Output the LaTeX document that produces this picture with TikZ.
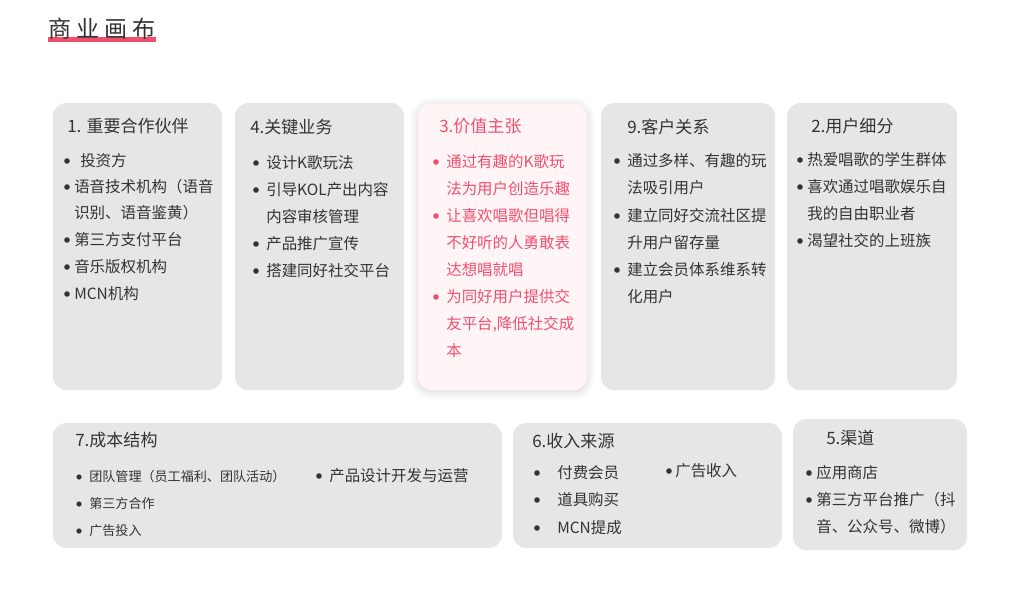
\documentclass[tikz,border=0pt]{standalone}
\usepackage{fontspec}
\setmainfont{Noto Sans CJK SC}
\usetikzlibrary{shadows.blur}

\definecolor{cardgray}{HTML}{E6E6E6}
\definecolor{cardpink}{HTML}{FFF5F7}
\definecolor{accent}{HTML}{F0506E}
\definecolor{inkgray}{HTML}{333333}

\begin{document}
\begin{tikzpicture}[x=0.025cm, y=-0.025cm,
  card/.style={fill=cardgray, rounded corners=0.33cm},
  head/.style={anchor=west, inner sep=0pt, text=inkgray,
    font=\fontsize{12.1}{14}\selectfont, text height=10pt, text depth=0.85pt},
  txt/.style={anchor=west, inner sep=0pt, text=inkgray,
    font=\fontsize{11}{13}\selectfont, text height=9.1pt, text depth=0.8pt},
  small/.style={txt, font=\fontsize{9.3}{11}\selectfont, text height=7.7pt, text depth=0.65pt},
  dot/.style={circle, fill=inkgray, inner sep=0pt, minimum size=0.14cm}]
  \useasboundingbox (0,0) rectangle (1015,600);

  % title
  \fill[accent] (48,37) rectangle (156,42);
  \node[anchor=west, inner sep=0pt, text=inkgray, text height=13.6pt, text depth=1.2pt,
    font=\fontsize{16.4}{18}\selectfont\addfontfeature{LetterSpace=22}] (title) at (48,29) {商业画布};

  % cards
  \fill[card] (53,103) rectangle (222,390);
  \fill[card] (235,103) rectangle (404,390);
  \fill[cardpink, rounded corners=0.33cm,
    blur shadow={shadow xshift=0pt, shadow yshift=-1pt, shadow blur radius=6pt, shadow opacity=18}]
    (418,104) rectangle (587,390);
  \fill[card] (601,103) rectangle (775,390);
  \fill[card] (787,103) rectangle (957,390);
  \fill[card] (53,423) rectangle (502,548);
  \fill[card] (513,423) rectangle (782,548);
  \fill[card] (793,419) rectangle (967,550);

  % 1. partners
  \node[head] (h1) at (67,126) {1. 重要合作伙伴};
  \foreach \y in {161,187,240,267,294} \node[dot] (d1-\y) at (67,\y) {};
  \node[txt] (p1) at (80,161) {投资方};
  \foreach \y/\t in {187/语音技术机构（语音, 213/识别、语音鉴黄）, 240/第三方支付平台,
    267/音乐版权机构, 294/MCN机构}
    \node[txt] (p1-\y) at (74,\y) {\t};

  % 4. key activities
  \node[head] (h4) at (250,127) {4.关键业务};
  \foreach \y in {163,190,244,271} \node[dot] (d4-\y) at (256,\y) {};
  \foreach \y/\t in {163/设计K歌玩法, 190/引导KOL产出内容, 217/内容审核管理,
    244/产品推广宣传, 271/搭建同好社交平台}
    \node[txt] (p4-\y) at (266,\y) {\t};

  % 3. value proposition
  \node[head, text=accent] (h3) at (439,126) {3.价值主张};
  \foreach \y in {162,216,297} \node[dot, fill=accent] (d3-\y) at (436,\y) {};
  \foreach \y/\t in {162/通过有趣的K歌玩, 189/法为用户创造乐趣, 216/让喜欢唱歌但唱得,
    243/不好听的人勇敢表, 270/达想唱就唱, 297/为同好用户提供交,
    324/{友平台,降低社交成}, 351/本}
    \node[txt, text=accent] (p3-\y) at (446,\y) {\t};

  % 9. customer relationships
  \node[head] (h9) at (627,127) {9.客户关系};
  \foreach \y in {161,216,270} \node[dot] (d9-\y) at (617,\y) {};
  \foreach \y/\t in {161/通过多样、有趣的玩, 188/法吸引用户, 216/建立同好交流社区提,
    243/升用户留存量, 270/建立会员体系维系转, 297/化用户}
    \node[txt] (p9-\y) at (627,\y) {\t};

  % 2. customer segments
  \node[head] (h2) at (811,126) {2.用户细分};
  \foreach \y in {160,187,241} \node[dot] (d2-\y) at (800,\y) {};
  \foreach \y/\t in {160/热爱唱歌的学生群体, 187/喜欢通过唱歌娱乐自, 214/我的自由职业者,
    241/渴望社交的上班族}
    \node[txt] (p2-\y) at (807,\y) {\t};

  % 7. cost structure
  \node[head] (h7) at (75,440) {7.成本结构};
  \foreach \y in {477,504,531} \node[dot, minimum size=0.13cm] (d7-\y) at (79,\y) {};
  \foreach \y/\t in {477/团队管理（员工福利、团队活动）, 504/第三方合作, 531/广告投入}
    \node[small] (p7-\y) at (89,\y) {\t};
  \node[dot] (d7-r) at (319,476) {};
  \node[txt] (p7-r) at (329,476) {产品设计开发与运营};

  % 6. revenue streams
  \node[head] (h6) at (532,441) {6.收入来源};
  \foreach \y/\t in {473/付费会员, 500/道具购买, 528/MCN提成} {
    \node[dot] (d6-\y) at (537,\y) {};
    \node[txt] (p6-\y) at (557,\y) {\t};
  }
  \node[dot] (d6-r) at (669,471) {};
  \node[txt] (p6-r) at (675,471) {广告收入};

  % 5. channels
  \node[head] (h5) at (826,438) {5.渠道};
  \foreach \y in {473,500} \node[dot] (d5-\y) at (809,\y) {};
  \foreach \y/\t in {473/应用商店, 500/第三方平台推广（抖, 527/音、公众号、微博）}
    \node[txt] (p5-\y) at (816,\y) {\t};
\end{tikzpicture}
\end{document}
